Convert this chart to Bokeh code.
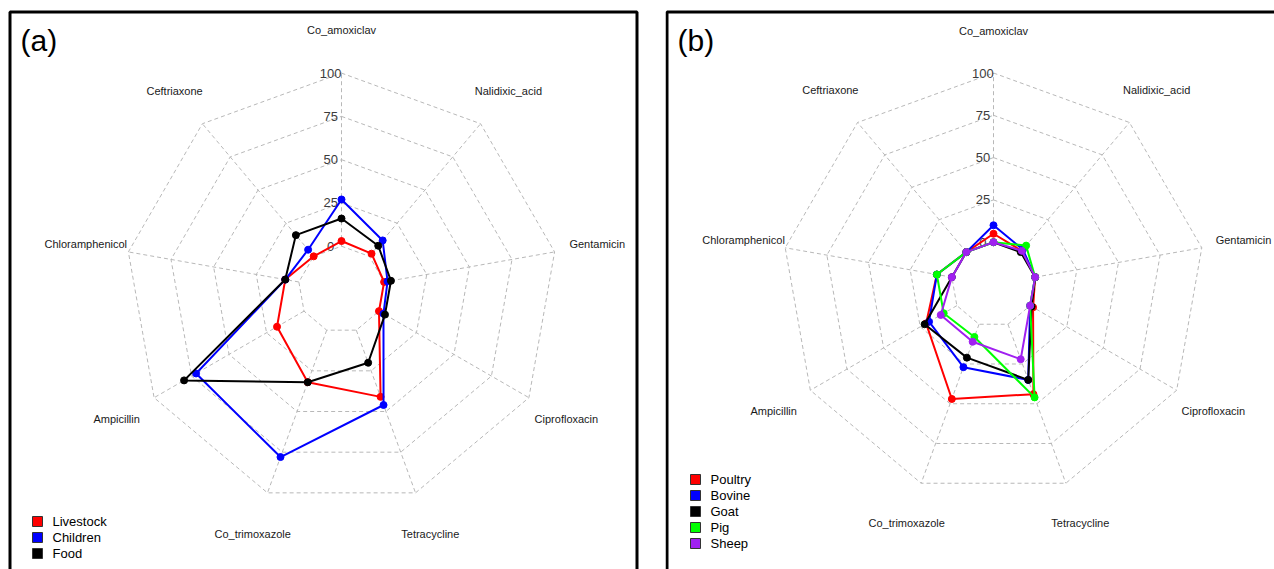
import numpy as np
from bokeh.plotting import figure
from bokeh.models import Range1d
from bokeh.layouts import row
from bokeh.embed import file_html
from bokeh.resources import INLINE
from bokeh.core.properties import value

# ---------------- data ----------------
antibiotics = ["Co_amoxiclav", "Nalidixic_acid", "Gentamicin", "Ciprofloxacin",
               "Tetracycline", "Co_trimoxazole", "Ampicillin", "Chloramphenicol",
               "Ceftriaxone"]
ring_values = [0, 25, 50, 75, 100]
ring_labels = ["0", "25", "50", "75", "100"]

# panel (a)
livestock = [3, 2, 0, 0, 41, 32, 18, 8, 0]
children = [27, 12, 2, 3, 46, 78, 72, 8, 5]
food = [16, 8, 4, 4, 20, 32, 80, 8, 16]
a_names = ["Livestock", "Children", "Food"]
a_colors = ["#FF0000", "#0000FF", "#000000"]

# panel (b)
poultry = [5, 1, 0, 2, 44, 47, 21, 9, 0]
bovine = [10, 2, 0, 0, 35, 27, 19, 9, 0]
goat = [0, 0, 0, 1, 35, 21, 22, 0, 0]
pig = [0, 5, 0, 0, 46, 8, 9, 9, 0]
sheep = [0, 1, 0, 0, 22, 11, 11, 0, 0]
b_names = ["Poultry", "Bovine", "Goat", "Pig", "Sheep"]
b_colors = ["#FF0000", "#0000FF", "#000000", "#00FF00", "#A020F0"]

FONT = value("Liberation Sans")


def radar(p, cx, cy, R, series, colors, names, tag, tag_x, tag_y, leg_x, leg_y):
    n = len(antibiotics)
    ang = np.deg2rad(np.arange(n) * 360.0 / n)
    sx, sy = np.sin(ang), -np.cos(ang)  # y axis is flipped (grows downward)

    def rad(v):
        return R * (0.2 + 0.8 * np.asarray(v, dtype=float) / 100.0)

    # grid rings
    for v in ring_values:
        r = rad(v)
        xs = np.append(cx + r * sx, cx + r * sx[0])
        ys = np.append(cy + r * sy, cy + r * sy[0])
        p.line(xs, ys, line_color="#b8b8b8", line_dash="4 3", line_width=1)
    # spokes
    r0 = rad(0)
    p.segment(x0=cx + r0 * sx, y0=cy + r0 * sy, x1=cx + R * sx, y1=cy + R * sy,
              line_color="#b8b8b8", line_dash="4 3", line_width=1)
    # ring labels
    p.text(x=[cx - 0.05 * R] * len(ring_values),
           y=[cy - rad(v) for v in ring_values], text=ring_labels,
           text_font=FONT, text_font_size="13px", text_color="#3c3c3c",
           text_align="center", text_baseline="middle")
    # axis labels
    p.text(x=cx + 1.2 * R * sx, y=cy + 1.2 * R * sy, text=antibiotics,
           text_font=FONT, text_font_size="11px", text_color="#1a1a1a",
           text_align="center", text_baseline="middle")
    # series
    for vals, col in zip(series, colors):
        r = rad(vals)
        x = cx + r * sx
        y = cy + r * sy
        p.line(np.append(x, x[0]), np.append(y, y[0]), line_color=col, line_width=2)
        p.scatter(x, y, size=7, fill_color=col, line_color=col)
    # panel tag
    p.text(x=[tag_x], y=[tag_y], text=[tag], text_font=FONT, text_font_size="30px",
           text_color="#000000", text_align="left", text_baseline="middle")
    # legend
    k = len(names)
    ly = [leg_y + 16 * i for i in range(k)]
    p.scatter([leg_x] * k, ly, marker="square", size=10, fill_color=colors,
              line_color="#333333", line_width=1)
    p.text(x=[leg_x + 15] * k, y=ly, text=names, text_font=FONT,
           text_font_size="13px", text_color="#000000", text_align="left",
           text_baseline="middle")


def make_fig(x0, x1):
    p = figure(width=x1 - x0, height=569, output_backend="svg", toolbar_location=None,
               x_range=Range1d(x0, x1), y_range=Range1d(569, 0), min_border=0)
    p.axis.visible = False
    p.grid.visible = False
    p.outline_line_color = None
    p.background_fill_color = "white"
    return p


p1 = make_fig(0, 665)
p1.quad(left=[9.5], right=[636.5], top=[11.5], bottom=[640], fill_alpha=0,
        line_color="black", line_width=3)
radar(p1, 341, 289, 216.4, [livestock, children, food], a_colors, a_names,
      "(a)", 20, 40, 37, 521)

p2 = make_fig(665, 1274)
p2.quad(left=[666.5], right=[1400], top=[11.5], bottom=[640], fill_alpha=0,
        line_color="black", line_width=3)
radar(p2, 993, 284, 211.5, [poultry, bovine, goat, pig, sheep], b_colors, b_names,
      "(b)", 677, 40, 695, 479)

layout = row(p1, p2, spacing=0)
open("out.html", "w").write(file_html(layout, INLINE))
